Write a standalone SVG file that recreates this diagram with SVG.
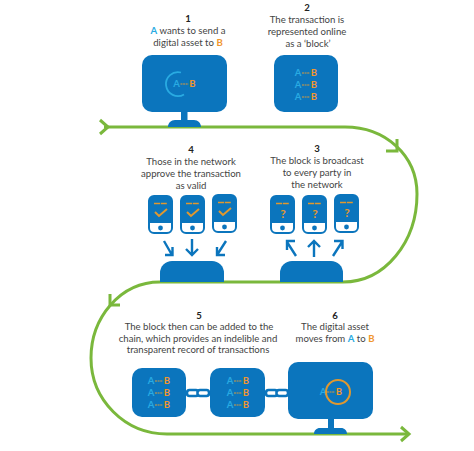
<svg xmlns="http://www.w3.org/2000/svg" width="474" height="451" viewBox="0 0 474 451">
<style>
text{font-family:Lato,"Open Sans","Liberation Sans",sans-serif;font-size:9.6px;fill:#444;text-anchor:middle}
.n{font-weight:700;fill:#222}
.a{fill:#29abe2;font-weight:700}
.b{fill:#f0962e;font-weight:700}
.s{font-size:9.5px;font-weight:700}
.blue{fill:#0b75bd}
.g{fill:none;stroke:#7ab83c;stroke-width:3}
.u{fill:none;stroke:#0b75bd;stroke-width:2.4}
.o{fill:none;stroke:#e0982f;stroke-width:2}
.q{font-size:12px;font-weight:700;fill:#e0982f}
</style>
<defs>
<g id="ab"><text class="s a" x="-8" y="3.300">A</text><path d="M-4 0H4" stroke="#d99a3a" stroke-width="1" stroke-dasharray="2 .6"/><text class="s b" x="8" y="3.300">B</text></g>
<g id="ab3"><use href="#ab" y="-12"/><use href="#ab"/><use href="#ab" y="12"/></g>
<g id="phone"><rect x="1" y="1" width="23" height="37" rx="5" fill="#fff" stroke="#0b75bd" stroke-width="2"/><path class="blue" d="M1 28V6a5 5 0 0 1 5-5h13a5 5 0 0 1 5 5v22z"/><circle class="blue" cx="12.500" cy="33" r="2.400"/><path d="M6 8.500H19" stroke="#e0982f" stroke-width="1.400" stroke-dasharray="6 .8"/></g>
<path id="check" class="o" d="M-6 0l4 4 8-7"/>
<g id="link"><rect x="-11" y="-3" width="11.500" height="6" rx="2.500" fill="#fff" stroke="#0b75bd" stroke-width="2.600"/><rect x="-.5" y="-3" width="11.500" height="6" rx="2.500" fill="#fff" stroke="#0b75bd" stroke-width="2.600"/></g>
</defs>

<g id="connectors">
<path class="g" d="M104 127H345C385 127 417 155 417 194C417 242 385 282 343 282H160C120 282 91 318 91 358C91 400 125 434 167 434H408"/>
<path class="g" d="M100 120l8 7-8 7"/>
<path class="g" d="M397 139V151H386"/>
<path class="g" d="M110 294V305H120"/>
<path class="g" d="M401 427l8 7-8 7"/>
<g class="u">
<path d="M164 241L172 255M165 255H172.500V247"/><path d="M192 239V255M186 249L192 255 198 249"/><path d="M226 241L217 255M217 247V255H225"/>
<path d="M296 256L287 242M287 250V241H295"/><path d="M314 257V241M308 247L314 241 320 247"/><path d="M333 256L342 242M334 241H342.500V249"/>
</g>
</g>

<g id="step1">
<text class="n" x="188" y="22">1</text>
<text x="188" y="34"><tspan class="a">A</tspan> wants to send a</text>
<text x="188" y="46">digital asset to <tspan class="b">B</tspan></text>
<rect class="blue" x="142" y="55" width="85" height="57" rx="10"/>
<path class="blue" d="M181 112h6.500v8h-6.500zM168 127c0-4 3-7 7-7h19c4 0 7 3 7 7z"/>
<path d="M181 72.500a12 12 0 1 0 3 22" fill="none" stroke="#29abe2" stroke-width="1.800"/>
<use href="#ab" x="184.500" y="84"/>
</g>
<g id="step2">
<text class="n" x="307" y="11">2</text>
<text x="307" y="23">The transaction is</text>
<text x="307" y="35">represented online</text>
<text x="308" y="47">as a ‘block’</text>
<rect class="blue" x="274" y="55" width="64" height="57" rx="10"/>
<use href="#ab3" x="306" y="85"/>
</g>
<g id="step3">
<text class="n" x="317" y="152">3</text>
<text x="317" y="164">The block is broadcast</text>
<text x="317" y="176">to every party in</text>
<text x="317" y="188">the network</text>
<use href="#phone" x="270" y="195"/><use href="#phone" x="302" y="195"/><use href="#phone" x="334" y="194"/>
<text class="q" x="283" y="218">?</text><text class="q" x="315" y="218">?</text><text class="q" x="347" y="217">?</text>
<path class="blue" d="M280 282V273a12 12 0 0 1 12-12h39a12 12 0 0 1 12 12v9z"/>
</g>
<g id="step4">
<text class="n" x="191" y="153">4</text>
<text x="191" y="165">Those in the network</text>
<text x="191" y="177">approve the transaction</text>
<text x="191" y="189">as valid</text>
<use href="#phone" x="148" y="195"/><use href="#phone" x="180" y="195"/><use href="#phone" x="212" y="194"/>
<use href="#check" x="161" y="212"/><use href="#check" x="193" y="212"/><use href="#check" x="225" y="211"/>
<path class="blue" d="M160 282V273a12 12 0 0 1 12-12h40a12 12 0 0 1 12 12v9z"/>
</g>
<g id="step5">
<text class="n" x="199" y="319">5</text>
<text x="199" y="330">The block then can be added to the</text>
<text x="198" y="341.500">chain, which provides an indelible and</text>
<text x="198" y="353">transparent record of transactions</text>
<rect class="blue" x="132" y="368" width="54" height="49" rx="10"/>
<use href="#ab3" x="159" y="393"/>
<rect class="blue" x="210" y="368" width="55" height="49" rx="10"/>
<use href="#ab3" x="238" y="393"/>
<use href="#link" x="198" y="393"/>
<use href="#link" x="277" y="393"/>
</g>
<g id="step6">
<text class="n" x="335" y="319">6</text>
<text x="335" y="330">The digital asset</text>
<text x="335" y="341.500">moves from <tspan class="a">A</tspan> to <tspan class="b">B</tspan></text>
<rect class="blue" x="288" y="362" width="85" height="57" rx="10"/>
<path class="blue" d="M328 419h6v9h-6zM314 434c0-3.500 2.500-6 6-6h21c3.500 0 6 2.500 6 6z"/>
<use href="#ab" x="331" y="392"/>
<circle cx="338" cy="392" r="12" fill="none" stroke="#e0982f" stroke-width="2"/>
</g>
</svg>
